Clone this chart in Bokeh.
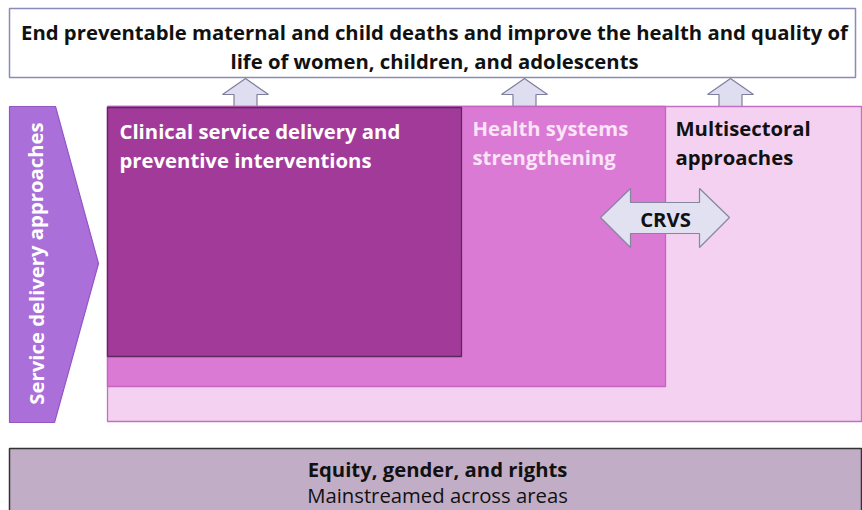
from bokeh.plotting import figure
from bokeh.models import Range1d
from bokeh.core.properties import value
from bokeh.embed import file_html
from bokeh.resources import INLINE

FONT = "Open Sans"
FS = "20.3px"

# ---- diagram content (image pixel coordinates) ----
title_lines = ["End preventable maternal and child deaths and improve the health and quality of",
               "life of women, children, and adolescents"]
title_box = dict(left=9, right=855, top=8, bottom=77)

up_arrow_x = [245, 524, 730]

area_names = ["Multisectoral approaches", "Health systems strengthening",
              "Clinical service delivery and preventive interventions"]
area_left = [107, 107, 107]
area_right = [861, 665, 461]
area_top = [106, 106, 107]
area_bottom = [421, 386, 356]
area_fill = ["#f4d1f1", "#da7ad5", "#a23a9a"]
area_line = ["#c470c2", "#c565c1", "#5a2a5a"]

label_lines = [["Multisectoral", "approaches"],
               ["Health systems", "strengthening"],
               ["Clinical service delivery and", "preventive interventions"]]
label_x = [675, 472, 119]
label_y = [[127, 156], [127, 156], [130, 159]]
label_color = ["#111111", "#fbe3f8", "#ffffff"]

side_label = "Service delivery approaches"
side_x = [9, 55, 98, 54, 9]
side_y = [106, 106, 263, 422, 422]

crvs_label = "CRVS"
crvs_x = [600, 630, 630, 699, 699, 729, 699, 699, 630, 630]
crvs_y = [217, 188, 202, 202, 188, 217, 247, 233, 233, 247]

bottom_lines = ["Equity, gender, and rights", "Mainstreamed across areas"]
bottom_box = dict(left=9, right=861, top=448, bottom=520)

W, H = 862, 510
p = figure(width=W, height=H, output_backend="svg", toolbar_location=None,
           x_range=Range1d(0, 862), y_range=Range1d(510, 0),
           min_border=0, outline_line_color=None, background_fill_color="white",
           border_fill_color="white")
p.axis.visible = False
p.grid.visible = False

# title box
p.quad(left=[title_box["left"]], right=[title_box["right"]], top=[title_box["top"]],
       bottom=[title_box["bottom"]], fill_color="white", line_color="#8b8bb9", line_width=1.5)
p.text(x=[434, 434], y=[31, 60], text=title_lines, text_font=value(FONT),
       text_font_style="bold", text_font_size=FS, text_align="center",
       text_baseline="middle", text_color="#111111")

# up arrows
axs, ays = [], []
for cx in up_arrow_x:
    axs.append([cx - 23, cx, cx + 23, cx + 11.5, cx + 11.5, cx - 11.5, cx - 11.5])
    ays.append([94, 78, 94, 94, 108, 108, 94])
p.patches(axs, ays, fill_color="#dedef0", line_color="#7e7e9e", line_width=1.2)

# nested areas
p.quad(left=area_left, right=area_right, top=area_top, bottom=area_bottom,
       fill_color=area_fill, line_color=area_line, line_width=1.3)

# side pentagon
p.patch(side_x, side_y, fill_color="#aa6fd9", line_color="#9257c4", line_width=1.2)
p.text(x=[35], y=[263], text=[side_label], angle=1.5708, text_font=value(FONT),
       text_font_style="bold", text_font_size=FS, text_align="center",
       text_baseline="middle", text_color="#ffffff")

# area labels
for lines, lx, ly, col in zip(label_lines, label_x, label_y, label_color):
    p.text(x=[lx, lx], y=ly, text=lines, text_font=value(FONT), text_font_style="bold",
           text_font_size=FS, text_align="left", text_baseline="middle",
           text_color=col)

# CRVS double arrow
p.patch(crvs_x, crvs_y, fill_color="#e1e1f1", line_color="#85859e", line_width=1.2)
p.text(x=[665], y=[218], text=[crvs_label], text_font=value(FONT), text_font_style="bold",
       text_font_size=FS, text_align="center", text_baseline="middle",
       text_color="#111111")

# bottom box
p.quad(left=[bottom_box["left"]], right=[bottom_box["right"]], top=[bottom_box["top"]],
       bottom=[bottom_box["bottom"]], fill_color="#c1aec6", line_color="#333333",
       line_width=1.5)
p.text(x=[437], y=[468], text=[bottom_lines[0]], text_font=value(FONT),
       text_font_style="bold", text_font_size=FS, text_align="center",
       text_baseline="middle", text_color="#111111")
p.text(x=[437], y=[494], text=[bottom_lines[1]], text_font=value(FONT),
       text_font_style="normal", text_font_size=FS, text_align="center",
       text_baseline="middle", text_color="#111111")

open("out.html", "w").write(file_html(p, INLINE))
